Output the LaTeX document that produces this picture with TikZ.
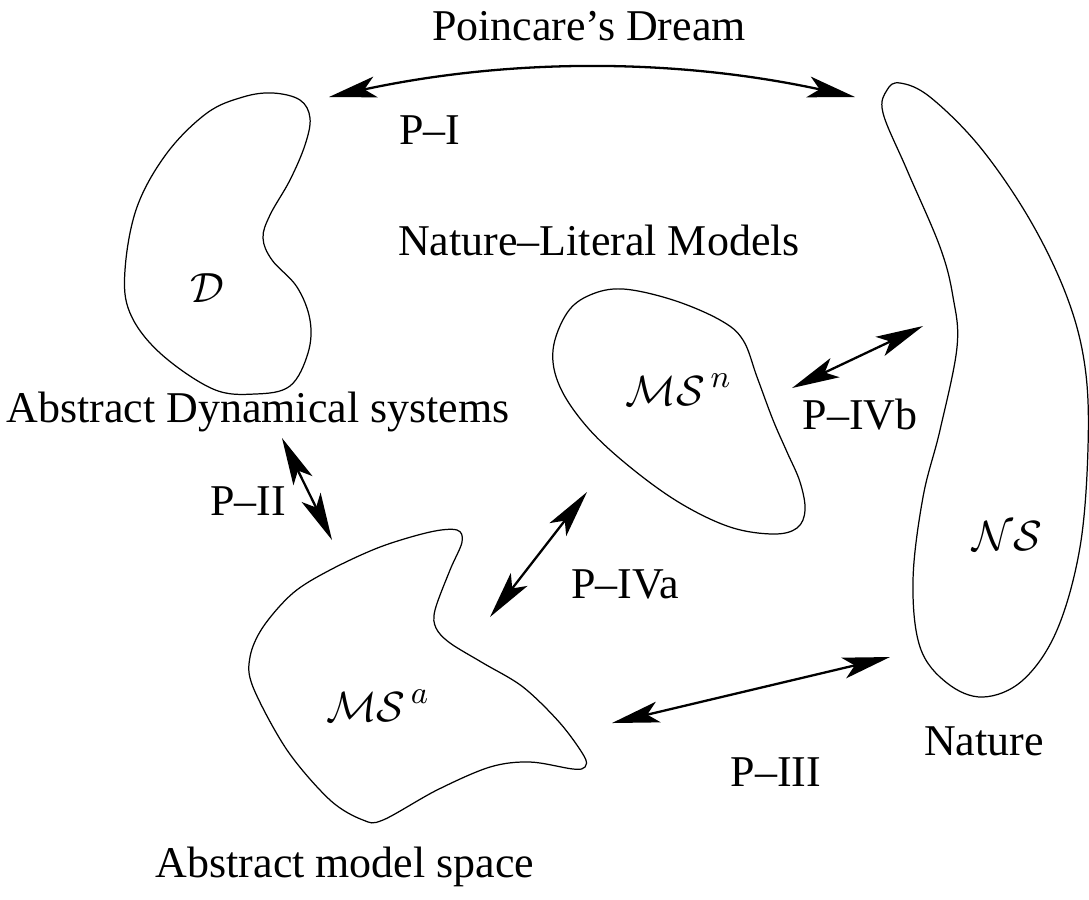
\documentclass[tikz,border=0pt]{standalone}
\usepackage{fontspec}
\setmainfont{Liberation Serif}
\usetikzlibrary{arrows.meta}
\tikzset{
  blob/.style={line width=0.35pt},
  twoway/.style={line width=0.65pt,
    {Stealth[length=13.5pt,width=6pt,inset=3.2pt]}-{Stealth[length=13.5pt,width=6pt,inset=3.2pt]}},
  lbl/.style={inner sep=0pt,font=\fontsize{12.5pt}{15pt}\selectfont}
}
\begin{document}
\begin{tikzpicture}[x=0.01cm,y=-0.01cm]
    \useasboundingbox (0,0) rectangle (1089,899);
    % the four regions
    \draw[blob] plot[smooth cycle,tension=0.6] coordinates {(273,93) (300,100) (310,118) (305,145) (290,180) (270,215) (263,238) (272,260) (297,287) (310,320) (308,353) (290,386) (255,394) (213,389) (160,353) (130,313) (125,270) (137,207) (167,153) (207,113) (243,97)};% D
    \draw[blob] plot[smooth cycle,tension=0.6] coordinates {(623,289) (673,300) (720,320) (743,340) (757,377) (773,420) (787,452) (800,482) (805,510) (797,528) (773,534) (730,527) (680,503) (630,467) (588,428) (560,387) (553,350) (567,313) (590,295)};% MS^n
    \draw[blob] plot[smooth cycle,tension=0.55] coordinates {(457,530) (462,542) (450,570) (435,610) (436,628) (450,643) (483,663) (523,687) (560,723) (584,756) (585,767) (573,769) (530,762) (490,767) (437,790) (383,820) (363,820) (330,800) (287,750) (253,687) (250,657) (263,627) (293,593) (330,570) (380,547) (430,532)};% MS^a
    \draw[blob] plot[smooth cycle,tension=0.6] coordinates {(900,83) (930,97) (980,147) (1030,220) (1067,297) (1085,367) (1088,447) (1080,547) (1057,630) (1023,680) (983,697) (947,683) (920,647) (913,580) (923,497) (940,430) (957,347) (953,297) (940,247) (907,170) (883,113) (887,90)};% NS
    % names inside the regions
    \node[lbl] (D) at (207,288) {$\mathcal{D}$};
    \node[lbl] (MSn) at (679,390) {$\mathcal{MS}^{\,n}$};
    \node[lbl] (MSa) at (378,706) {$\mathcal{MS}^{\,a}$};
    \node[lbl] (NS) at (1007,536) {$\mathcal{NS}$};
    % ends of the arrows
    \coordinate (pIl) at (329,97);
    \coordinate (pIr) at (855,97);
    \coordinate (pIIa) at (282,438);
    \coordinate (pIIb) at (332,540);
    \coordinate (pIVaa) at (587,492);
    \coordinate (pIVab) at (490,617);
    \coordinate (pIVba) at (792,388);
    \coordinate (pIVbb) at (923,326);
    \coordinate (pIIIa) at (612,723);
    \coordinate (pIIIb) at (890,657);
    \draw[twoway] (pIl) .. controls (510,58) and (675,58) .. (pIr);
    \draw[twoway] (pIIa) -- (pIIb);
    \draw[twoway] (pIVaa) -- (pIVab);
    \draw[twoway] (pIVba) -- (pIVbb);
    \draw[twoway] (pIIIa) -- (pIIIb);
    % texts
    \node[lbl] (dream) at (589,26) {Poincare's Dream};
    \node[lbl] (tPI) at (430,130) {P--I};
    \node[lbl] (literal) at (599,240) {Nature--Literal Models};
    \node[lbl] (absdyn) at (258,412) {Abstract Dynamical systems};
    \node[lbl] (tPII) at (248,501) {P--II};
    \node[lbl] (tPIVa) at (625,584) {P--IVa};
    \node[lbl] (tPIVb) at (860,415) {P--IVb};
    \node[lbl] (tPIII) at (776,772) {P--III};
    \node[lbl] (nature) at (984,741) {Nature};
    \node[lbl] (absmod) at (345,867) {Abstract model space};
  \end{tikzpicture}
\end{document}
